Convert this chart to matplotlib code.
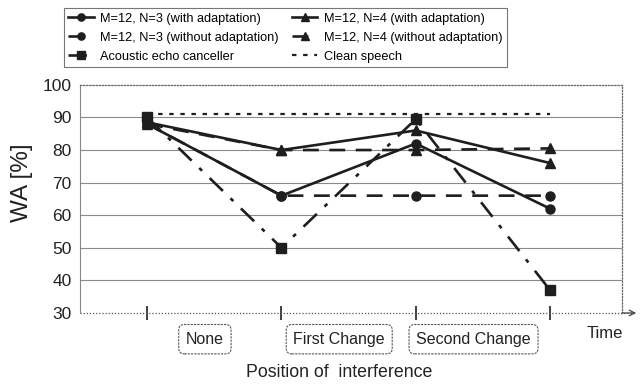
import matplotlib
matplotlib.use("Agg")
import matplotlib.pyplot as plt

plt.rcParams['font.family'] = ['Liberation Sans', 'DejaVu Sans']

# ---- data ----
time_points = [0, 1, 2, 3]
intervals = ["None", "First Change", "Second Change"]
n3_adapt = [88, 66, 82, 62]
n4_adapt = [88.5, 80, 86, 76]
n3_noadapt = [88, 66, 66, 66]
n4_noadapt = [88, 80, 80, 80.5]
aec = [90, 50, 89.5, 37]
clean = [91, 91, 91, 91]
yticks = [30, 40, 50, 60, 70, 80, 90, 100]

c = '#1e1e1e'
fig = plt.figure(figsize=(6.4, 3.84), dpi=100)
ax = fig.add_axes([0.125, 0.185, 0.847, 0.594])

ax.set_xlim(-0.5, 3.536)
ax.set_ylim(30, 100)

for y in yticks[1:-1]:
    ax.axhline(y, color='#8a8a8a', lw=0.8, zorder=1)

h1, = ax.plot(time_points, n3_adapt, '-', color=c, lw=1.9, marker='o', ms=6.5, zorder=4,
              label='M=12, N=3 (with adaptation)')
h2, = ax.plot(time_points, n4_adapt, '-', color=c, lw=1.9, marker='^', ms=6.5, zorder=4,
              label='M=12, N=4 (with adaptation)')
h3, = ax.plot(time_points, n3_noadapt, color=c, lw=1.9, ls=(0, (6, 4)), marker='o', ms=6.5, zorder=3,
              label='M=12, N=3 (without adaptation)')
h4, = ax.plot(time_points, n4_noadapt, color=c, lw=1.9, ls=(0, (6, 4)), marker='^', ms=6.5, zorder=3,
              label='M=12, N=4 (without adaptation)')
h5, = ax.plot(time_points, aec, color=c, lw=1.9, ls=(0, (7, 4, 1.5, 4)), marker='s', ms=6.5, zorder=3,
              label='Acoustic echo canceller')
h6, = ax.plot(time_points, clean, color=c, lw=1.6, ls=(0, (2, 3)), zorder=3,
              label='Clean speech')

ax.set_yticks(yticks)
ax.set_yticklabels([str(v) for v in yticks], fontsize=12.5, color='#222')
ax.tick_params(axis='y', length=0, pad=6)
ax.set_xticks(time_points)
ax.set_xticklabels([])
ax.tick_params(axis='x', direction='inout', length=10, width=1.3, color='#333')

for s in ['top', 'right']:
    ax.spines[s].set_linestyle((0, (1, 1.5)))
    ax.spines[s].set_color('#666')
    ax.spines[s].set_linewidth(0.9)
ax.spines['left'].set_color('#888')
ax.spines['left'].set_linewidth(0.8)
ax.spines['bottom'].set_visible(False)

# dotted time axis with arrow
ax.plot([-0.5, 3.64], [30, 30], color='#555', lw=0.9, ls=(0, (1, 1.5)), clip_on=False, zorder=2)
ax.annotate('', xy=(1.026, 0), xycoords='axes fraction', xytext=(1.0, 0),
            textcoords='axes fraction',
            arrowprops=dict(arrowstyle='->', color='#444', lw=0.9, shrinkA=0, shrinkB=0),
            annotation_clip=False)
ax.text(0.968, -0.09, 'Time', transform=ax.transAxes, fontsize=12, color='#222',
        ha='center', va='center')

ax.set_ylabel('WA [%]', fontsize=17.5, color='#222')
ax.yaxis.set_label_coords(-0.087, 0.572)

# interval boxes
for i, lab in enumerate(intervals):
    ax.text(time_points[i] + 0.43, -0.115, lab, transform=ax.get_xaxis_transform(),
            fontsize=11.5, color='#222', ha='center', va='center',
            bbox=dict(boxstyle='round,pad=0.45,rounding_size=0.35', fc='white',
                      ec='#555', lw=0.8, ls=(0, (2, 1))))

fig.text(0.53, 0.029, 'Position of  interference', fontsize=12.8, color='#222',
         ha='center', va='center')

leg = fig.legend(handles=[h1, h3, h5, h2, h4, h6], ncol=2, loc='upper left',
                 bbox_to_anchor=(0.09, 0.995), fontsize=9.2, frameon=True, fancybox=False,
                 handlelength=2.0, handletextpad=0.5, columnspacing=1.0, borderpad=0.35,
                 labelspacing=0.55, markerscale=0.8)
leg.get_frame().set_edgecolor('#555')
leg.get_frame().set_linewidth(0.8)

fig.savefig('out.png', dpi=100)
